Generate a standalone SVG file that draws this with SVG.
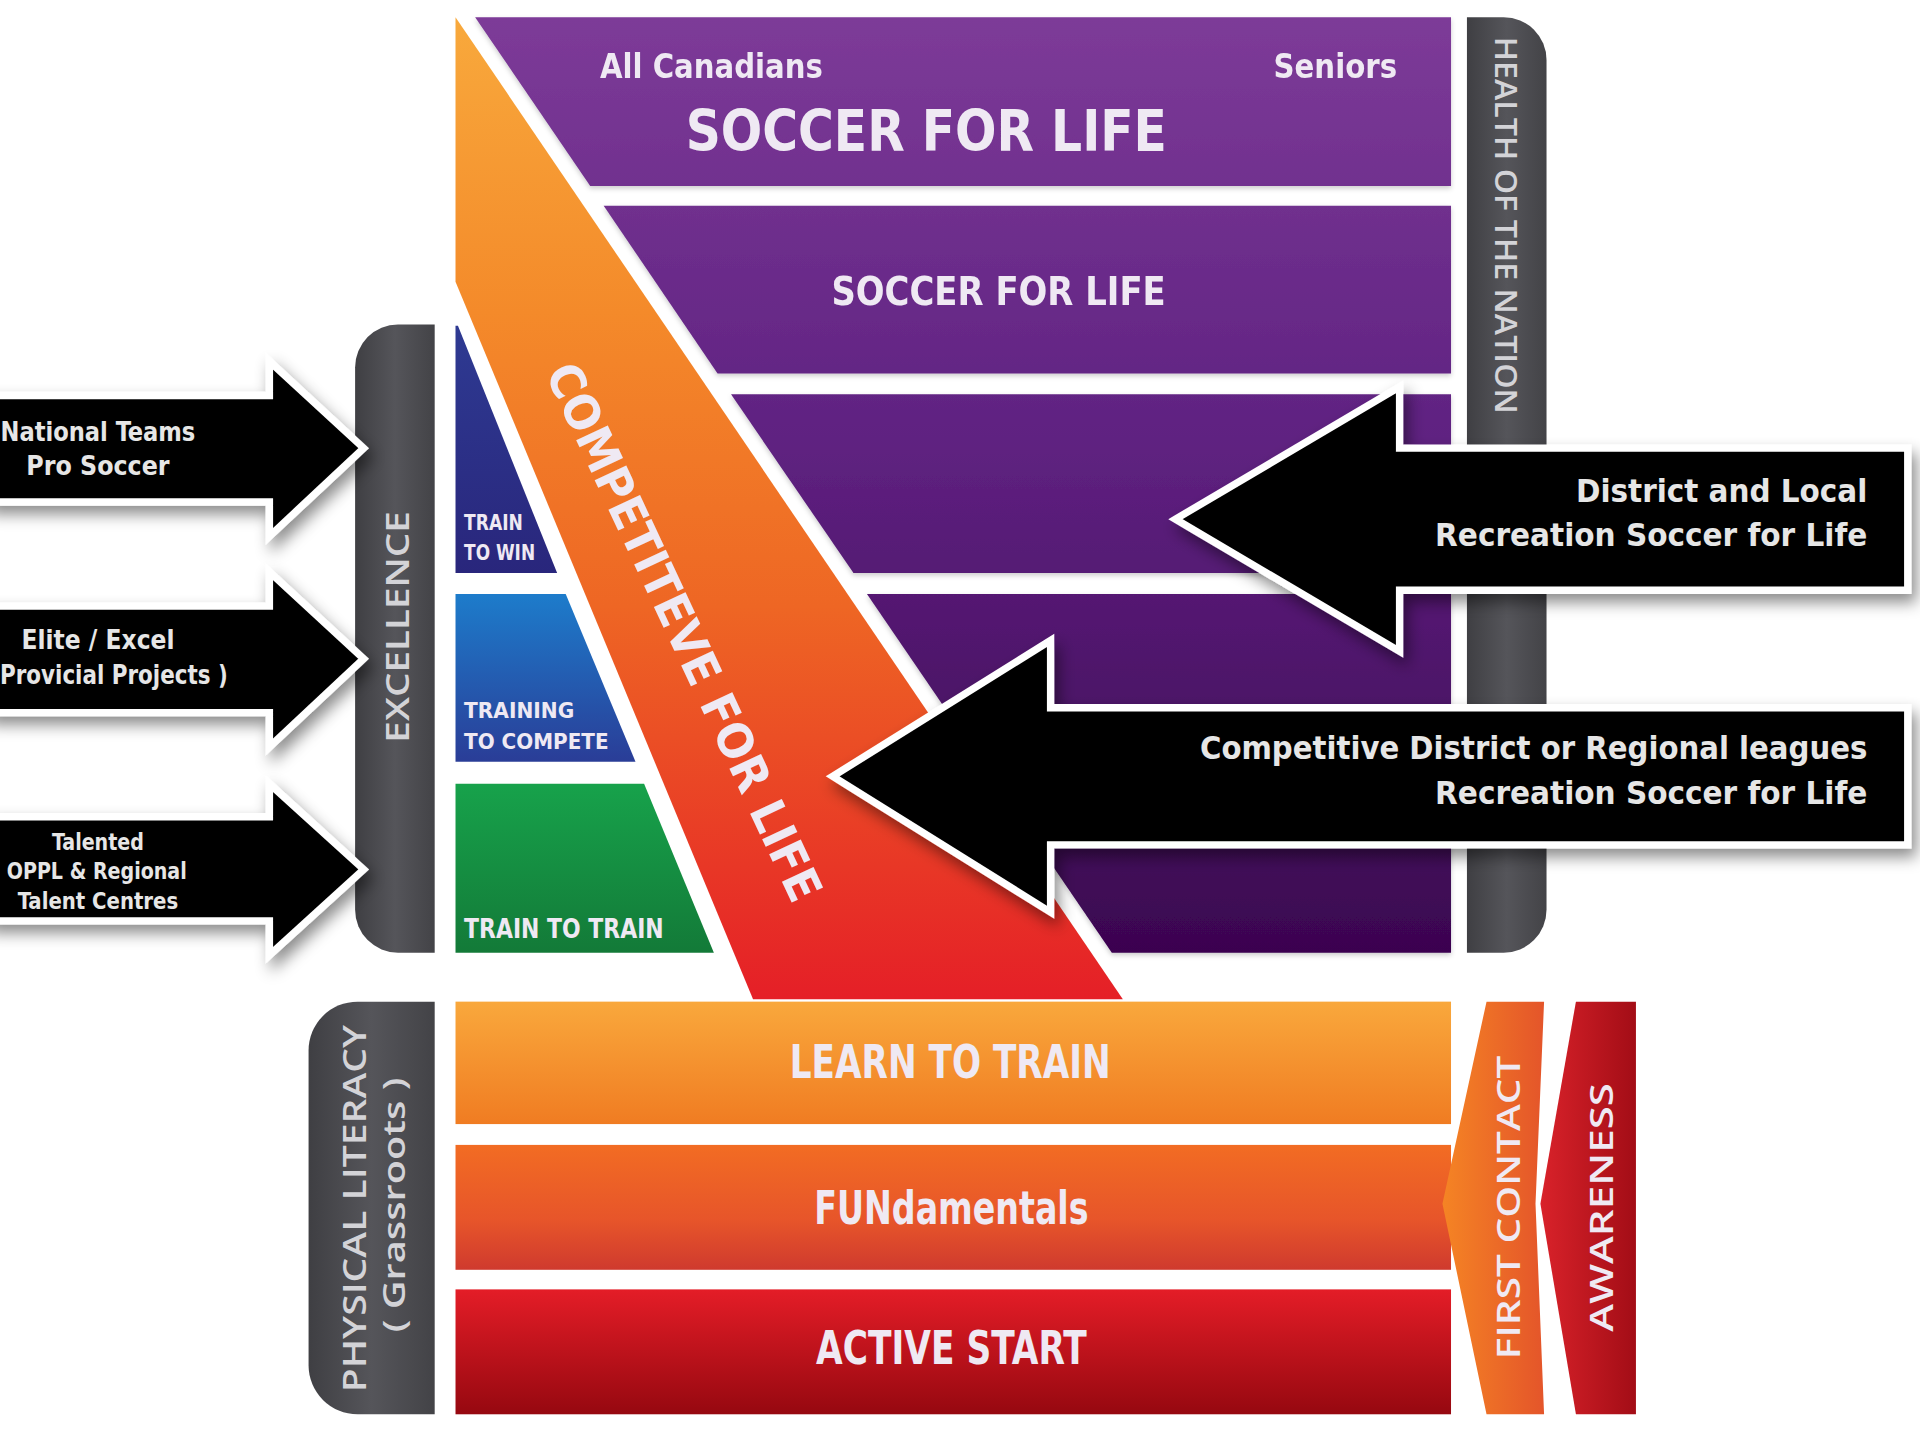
<svg xmlns="http://www.w3.org/2000/svg" width="1920" height="1440" viewBox="0 0 1920 1440">
<defs>
<linearGradient id="gPurple" gradientUnits="userSpaceOnUse" x1="0" y1="14" x2="0" y2="778">
<stop offset="0" stop-color="#7d3b98"/><stop offset="0.45" stop-color="#5f2281"/><stop offset="1" stop-color="#3b0550"/>
</linearGradient>
<linearGradient id="gWedge" gradientUnits="userSpaceOnUse" x1="0" y1="14" x2="0" y2="816">
<stop offset="0" stop-color="#f8a93c"/><stop offset="0.3" stop-color="#f48a2a"/><stop offset="0.6" stop-color="#ee6624"/><stop offset="1" stop-color="#e51f27"/>
</linearGradient>
<linearGradient id="gGray" x1="0" y1="0" x2="1" y2="0">
<stop offset="0" stop-color="#3f3f43"/><stop offset="0.5" stop-color="#55555a"/><stop offset="1" stop-color="#434347"/>
</linearGradient>
<linearGradient id="gWin" x1="0" y1="0" x2="0" y2="1"><stop offset="0" stop-color="#2e3a92"/><stop offset="1" stop-color="#29267c"/></linearGradient>
<linearGradient id="gCompete" x1="0" y1="0" x2="0" y2="1"><stop offset="0" stop-color="#1d7ccb"/><stop offset="1" stop-color="#2a3d97"/></linearGradient>
<linearGradient id="gTrain" x1="0" y1="0" x2="0" y2="1"><stop offset="0" stop-color="#17a24b"/><stop offset="1" stop-color="#137a38"/></linearGradient>
<linearGradient id="gLearn" x1="0" y1="0" x2="0" y2="1"><stop offset="0" stop-color="#f9a83c"/><stop offset="1" stop-color="#f07c22"/></linearGradient>
<linearGradient id="gFun" x1="0" y1="0" x2="0" y2="1"><stop offset="0" stop-color="#f26c23"/><stop offset="0.6" stop-color="#e7552a"/><stop offset="1" stop-color="#cf3a2e"/></linearGradient>
<linearGradient id="gActive" x1="0" y1="0" x2="0" y2="1"><stop offset="0" stop-color="#e41d27"/><stop offset="1" stop-color="#960810"/></linearGradient>
<linearGradient id="gFirst" x1="0" y1="0" x2="1" y2="0"><stop offset="0" stop-color="#f58424"/><stop offset="1" stop-color="#e4552a"/></linearGradient>
<linearGradient id="gAware" x1="0" y1="0" x2="1" y2="0"><stop offset="0" stop-color="#d9222a"/><stop offset="1" stop-color="#a30d16"/></linearGradient>
<filter id="shadow" x="-10%" y="-20%" width="125%" height="150%">
<feDropShadow dx="4" dy="7" stdDeviation="6" flood-color="#000" flood-opacity="0.45"/>
</filter>
<filter id="soft" x="-5%" y="-5%" width="110%" height="115%">
<feDropShadow dx="0" dy="2" stdDeviation="2" flood-color="#000" flood-opacity="0.2"/>
</filter>
</defs>
<style>
text{font-family:"Liberation Sans Narrow","DejaVu Sans Condensed","Liberation Sans",sans-serif;font-weight:bold}
.lt{fill:#efe9f3}
.gt{fill:#d3d3d7}
.wide{font-family:"Open Sans","DejaVu Sans","Liberation Sans",sans-serif;font-weight:600}
.comp{font-weight:600}
.at{fill:#e6e6e6}
.arrow{fill:#050505;stroke:#ffffff;stroke-width:6;stroke-linejoin:miter;filter:url(#shadow)}
.mid{text-anchor:middle}
.end{text-anchor:end}
</style>
<rect x="0" y="0" width="1920" height="1440" fill="#ffffff"/>
<g transform="scale(1.22449)">

<g id="health-of-the-nation">
<path d="M1198,14 H1228 A35,35 0 0 1 1263,49 V743 A35,35 0 0 1 1228,778 H1198 Z" fill="url(#gGray)"/>
<text class="gt wide mid" transform="translate(1230,184) rotate(90)" x="0" y="9" font-size="25" textLength="308" lengthAdjust="spacingAndGlyphs">HEALTH OF THE NATION</text>
</g>

<g id="soccer-for-life-1" filter="url(#soft)">
<polygon points="388,14 1185,14 1185,152 482,152" fill="url(#gPurple)"/>
<text class="lt" x="490" y="64" font-size="27" textLength="182" lengthAdjust="spacingAndGlyphs">All Canadians</text>
<text class="lt end" x="1141" y="64" font-size="27" textLength="101" lengthAdjust="spacingAndGlyphs">Seniors</text>
<text class="lt" x="560" y="123" font-size="47" textLength="393" lengthAdjust="spacingAndGlyphs">SOCCER FOR LIFE</text>
</g>
<g id="soccer-for-life-2" filter="url(#soft)">
<polygon points="493,168 1185,168 1185,305 586,305" fill="url(#gPurple)"/>
<text class="lt" x="679" y="249" font-size="32" textLength="273" lengthAdjust="spacingAndGlyphs">SOCCER FOR LIFE</text>
</g>
<g id="purple-band-3" filter="url(#soft)">
<polygon points="597,322 1185,322 1185,468 697,468" fill="url(#gPurple)"/>
</g>
<g id="purple-band-4" filter="url(#soft)">
<polygon points="708,485 1185,485 1185,778 908,778" fill="url(#gPurple)"/>
</g>

<g id="excellence">
<path d="M355,265 V778 H325 A35,35 0 0 1 290,743 V300 A35,35 0 0 1 325,265 Z" fill="url(#gGray)"/>
<text class="gt wide mid" transform="translate(324,512) rotate(-90)" x="0" y="10" font-size="27" textLength="189" lengthAdjust="spacingAndGlyphs">EXCELLENCE</text>
</g>

<g id="train-to-win">
<polygon points="372,266 374,266 455,468 372,468" fill="url(#gWin)"/>
<text class="lt" x="379" y="433" font-size="17" textLength="48" lengthAdjust="spacingAndGlyphs">TRAIN</text>
<text class="lt" x="379" y="457" font-size="17" textLength="58" lengthAdjust="spacingAndGlyphs">TO WIN</text>
</g>
<g id="training-to-compete">
<polygon points="372,485 462,485 519,622 372,622" fill="url(#gCompete)"/>
<text class="lt" x="379" y="586" font-size="18" textLength="90" lengthAdjust="spacingAndGlyphs">TRAINING</text>
<text class="lt" x="379" y="612" font-size="18" textLength="118" lengthAdjust="spacingAndGlyphs">TO COMPETE</text>
</g>
<g id="train-to-train">
<polygon points="372,640 526,640 583,778 372,778" fill="url(#gTrain)"/>
<text class="lt" x="379" y="766" font-size="22" textLength="163" lengthAdjust="spacingAndGlyphs">TRAIN TO TRAIN</text>
</g>

<g id="competitive-for-life">
<polygon points="372,14 917,816 615,816 372,230" fill="url(#gWedge)"/>
<text class="lt comp mid" transform="translate(559,516) rotate(65)" x="0" y="14" font-size="39" textLength="480" lengthAdjust="spacingAndGlyphs">COMPETITEVE FOR LIFE</text>
</g>

<g id="physical-literacy">
<path d="M355,818 V1155 H292 A40,40 0 0 1 252,1115 V858 A40,40 0 0 1 292,818 Z" fill="url(#gGray)"/>
<text class="gt wide mid" transform="translate(289,987) rotate(-90)" x="0" y="10" font-size="27" textLength="300" lengthAdjust="spacingAndGlyphs">PHYSICAL LITERACY</text>
<text class="gt wide mid" transform="translate(322,984) rotate(-90)" x="0" y="9" font-size="25" textLength="208" lengthAdjust="spacingAndGlyphs">( Grassroots )</text>
</g>

<g id="learn-to-train">
<rect x="372" y="818" width="813" height="100" fill="url(#gLearn)"/>
<text class="lt mid" x="776" y="880" font-size="37" textLength="262" lengthAdjust="spacingAndGlyphs">LEARN TO TRAIN</text>
</g>
<g id="fundamentals">
<rect x="372" y="935" width="813" height="102" fill="url(#gFun)"/>
<text class="lt mid" x="777" y="1000" font-size="37" textLength="224" lengthAdjust="spacingAndGlyphs">FUNdamentals</text>
</g>
<g id="active-start">
<rect x="372" y="1053" width="813" height="102" fill="url(#gActive)"/>
<text class="lt mid" x="777" y="1114" font-size="37" textLength="221" lengthAdjust="spacingAndGlyphs">ACTIVE START</text>
</g>

<g id="first-contact">
<polygon points="1214,818 1261,818 1254,983 1261,1155 1214,1155 1178,983" fill="url(#gFirst)"/>
<text class="lt wide mid" transform="translate(1231,986) rotate(-90)" x="0" y="10" font-size="27" textLength="248" lengthAdjust="spacingAndGlyphs">FIRST CONTACT</text>
</g>
<g id="awareness">
<polygon points="1287,818 1336,818 1336,1155 1287,1155 1258,983" fill="url(#gAware)"/>
<text class="lt wide mid" transform="translate(1307,986) rotate(-90)" x="0" y="10" font-size="27" textLength="203" lengthAdjust="spacingAndGlyphs">AWARENESS</text>
</g>

<g id="connectors">
<g id="arrow-national-teams">
<polygon class="arrow" points="-10,323 220,323 220,295 297,366 220,438 220,410 -10,410"/>
<text class="at mid" x="80" y="360" font-size="22" textLength="159" lengthAdjust="spacingAndGlyphs">National Teams</text>
<text class="at mid" x="80" y="388" font-size="22" textLength="117" lengthAdjust="spacingAndGlyphs">Pro Soccer</text>
</g>
<g id="arrow-elite-excel">
<polygon class="arrow" points="-10,495 220,495 220,467 297,538 220,610 220,582 -10,582"/>
<text class="at mid" x="80" y="530" font-size="22" textLength="125" lengthAdjust="spacingAndGlyphs">Elite / Excel</text>
<text class="at" x="0" y="559" font-size="22" textLength="186" lengthAdjust="spacingAndGlyphs">Provicial Projects )</text>
</g>
<g id="arrow-talented">
<polygon class="arrow" points="-10,667 220,667 220,640 297,710 220,780 220,752 -10,752"/>
<text class="at mid" x="80" y="694" font-size="19" textLength="75" lengthAdjust="spacingAndGlyphs">Talented</text>
<text class="at mid" x="79" y="718" font-size="19" textLength="147" lengthAdjust="spacingAndGlyphs">OPPL &amp; Regional</text>
<text class="at mid" x="80" y="742" font-size="19" textLength="131" lengthAdjust="spacingAndGlyphs">Talent Centres</text>
</g>
<g id="arrow-district-local">
<polygon class="arrow" points="960,424 1143,316 1143,366 1558,366 1558,482 1143,482 1143,532"/>
<text class="at end" x="1525" y="410" font-size="26" textLength="238" lengthAdjust="spacingAndGlyphs">District and Local</text>
<text class="at end" x="1525" y="446" font-size="26" textLength="353" lengthAdjust="spacingAndGlyphs">Recreation Soccer for Life</text>
</g>
<g id="arrow-competitive-district">
<polygon class="arrow" points="680,634 858,523 858,578 1558,578 1558,690 858,690 858,745"/>
<text class="at end" x="1525" y="620" font-size="26" textLength="545" lengthAdjust="spacingAndGlyphs">Competitive District or Regional leagues</text>
<text class="at end" x="1525" y="657" font-size="26" textLength="353" lengthAdjust="spacingAndGlyphs">Recreation Soccer for Life</text>
</g>
</g>

</g>
</svg>
